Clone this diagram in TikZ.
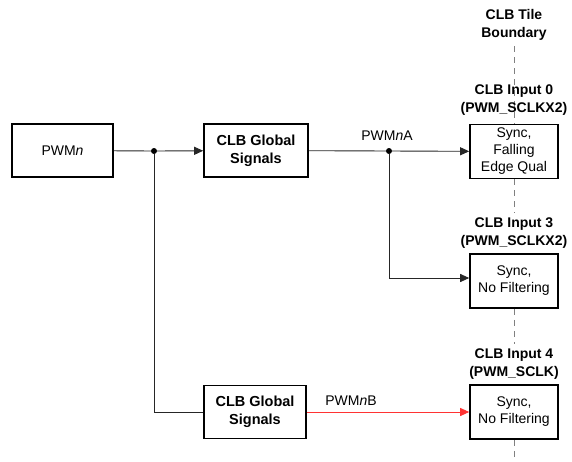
\documentclass[tikz,border=0pt]{standalone}
\usepackage{fontspec}
\setmainfont{Liberation Sans}
\usetikzlibrary{arrows.meta,backgrounds}

\begin{document}
\begin{tikzpicture}
  [x=1pt,y=-1pt,
   every node/.style={font=\fontsize{14}{17}\selectfont,align=center,inner sep=0pt},
   blk/.style={draw,fill=white,line width=1.6pt,minimum width=88pt,minimum height=54pt},
   glb/.style={blk,minimum height=53pt,font=\bfseries\fontsize{14.5}{18}\selectfont},
   hdr/.style={font=\bfseries\fontsize{14}{18}\selectfont},
   wire/.style={black!85,line width=0.9pt},
   arr/.style={wire,-{Triangle[length=9pt,width=8pt]}},
   bound/.style={gray,line width=1pt,dash pattern=on 6pt off 5pt},
   junc/.style={circle,fill,minimum size=6pt}]
  \useasboundingbox (0,0) rectangle (572,461);
  % sources
  \node[blk,minimum width=101pt,minimum height=53pt] (pwm) at (62.5,150.5) {PWM\textit{n}};
  \node[glb,minimum width=104pt] (glbA) at (256,150.5) {CLB Global\\Signals};
  \node[glb,minimum width=102pt] (glbB) at (255,412) {CLB Global\\Signals};
  % tile inputs
  \node[blk] (in0) at (514,151.5) {Sync,\\Falling\\Edge Qual};
  \node[blk] (in3) at (514,281) {Sync,\\No Filtering};
  \node[blk] (in4) at (514,412) {Sync,\\No Filtering};
  \node[hdr] (tile) at (514,25) {CLB Tile\\Boundary};
  \node[hdr] (lbl0) at (514,100) {CLB Input 0\\(PWM\_SCLKX2)};
  \node[hdr] (lbl3) at (514,233) {CLB Input 3\\(PWM\_SCLKX2)};
  \node[hdr] (lbl4) at (514,364) {CLB Input 4\\(PWM\_SCLK)};
  \coordinate (btop) at (514,46);
  \coordinate (bbot) at (514,461);
  % junctions
  \node[junc] (j1) at (154,151) {};
  \node[junc] (j2) at (389,151) {};
  % tile boundary
  \begin{scope}[on background layer]
    \draw[bound] (btop) -- (in0.north);
    \foreach \from/\to in {in0.south/lbl3.north,in3.south/lbl4.north}
      \draw[bound,shorten >=4pt] (\from) -- (\to);
    \draw[bound] (in4.south) -- (bbot);
  \end{scope}
  % signal paths
  \draw[wire] (pwm) -- (j1);
  \draw[arr] (j1) -- (glbA);
  \draw[wire] (j1) |- (glbB);
  \draw[wire] (glbA) -- (j2);
  \draw[arr] (j2) -- (in0);
  \draw[arr] (j2) |- (in3.west |- 0,278);
  \draw[arr,red!80] (glbB) -- (in4);
  \node (pa) at (387,136) {PWM\textit{n}A};
  \node (pb) at (351,401) {PWM\textit{n}B};
\end{tikzpicture}
\end{document}
